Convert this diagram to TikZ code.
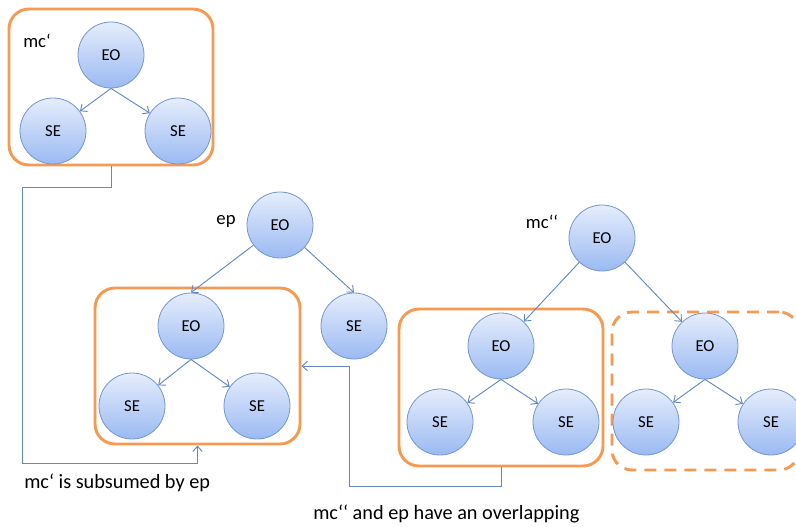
\documentclass[tikz,border=0pt]{standalone}
\usepackage{fontspec}
\setmainfont{Carlito}
\usetikzlibrary{arrows.meta}

\definecolor{boxorange}{HTML}{F59A52}
\definecolor{linkblue}{HTML}{6389C0}
\definecolor{ballTop}{HTML}{E6EDFC}
\definecolor{ballBot}{HTML}{9ABAF2}
\definecolor{ballEdge}{HTML}{7496CC}

\begin{document}
\begin{tikzpicture}[x=0.75pt,y=-0.75pt,
  ball/.style={circle, minimum size=49.5pt, inner sep=0pt, draw=ballEdge,
    line width=0.6pt, top color=ballTop, bottom color=ballBot,
    font=\fontsize{12.5}{14}\selectfont},
  groupbox/.style={rectangle, draw=boxorange, line width=2.2pt,
    rounded corners=15pt, inner sep=0pt},
  optbox/.style={groupbox, dash pattern=on 9pt off 6pt},
  treearrow/.style={draw=linkblue, line width=0.7pt,
    -{Straight Barb[length=4pt,width=7pt]}},
  linkarrow/.style={treearrow},
  lbl/.style={font=\fontsize{14}{16}\selectfont, inner sep=0pt},
  caption/.style={font=\fontsize{15.2}{18}\selectfont, inner sep=0pt}]

\useasboundingbox (0,0) rectangle (796,526);

% group frames
\node[groupbox, minimum width=153pt, minimum height=117pt] (boxA) at (111,87) {};
\node[groupbox, minimum width=153.75pt, minimum height=117pt] (boxC) at (197.5,366) {};
\node[groupbox, minimum width=153pt, minimum height=117.75pt] (boxE) at (501,387.5) {};
\clip (0,0) rectangle (796,526);
\node[optbox, minimum width=140.25pt, minimum height=118.5pt] (boxF) at (705.5,391) {};

% mc' tree
\node[ball] (eoA) at (111,55) {EO};
\node[ball] (seA1) at (53,131) {SE};
\node[ball] (seA2) at (178,131) {SE};
\node[lbl] (lblA) at (37,41) {mc‘};

% ep tree
\node[ball] (eoB) at (280,225) {EO};
\node[ball] (seB) at (354,326) {SE};
\node[ball] (eoC) at (191,326) {EO};
\node[ball] (seC1) at (132,406) {SE};
\node[ball] (seC2) at (257,406) {SE};
\node[lbl] (lblB) at (226,221) {ep};

% mc'' tree
\node[ball] (eoD) at (602,238) {EO};
\node[ball] (eoE) at (501,346) {EO};
\node[ball] (seE1) at (440,422) {SE};
\node[ball] (seE2) at (566,422) {SE};
\node[ball] (eoF) at (705,346) {EO};
\node[ball] (seF1) at (646,422) {SE};
\node[ball] (seF2) at (771,422) {SE};
\node[lbl] (lblD) at (542,222) {mc‘‘};

% tree edges
\draw[treearrow] (eoA.south) -- (seA1);
\draw[treearrow] (eoA.south) -- (seA2);
\draw[treearrow] (eoB) -- (eoC.north);
\draw[treearrow] (eoB) -- (seB.north);
\draw[treearrow] (eoC.south) -- (seC1);
\draw[treearrow] (eoC.south) -- (seC2);
\draw[treearrow] (eoD) -- (eoE);
\draw[treearrow] (eoD) -- (eoF);
\draw[treearrow] (eoE.south) -- (seE1);
\draw[treearrow] (eoE.south) -- (seE2);
\draw[treearrow] (eoF.south) -- (seF1);
\draw[treearrow] (eoF.south) -- (seF2);

% relations between groups
\coordinate (bendA) at (22,187);
\coordinate (bendB) at (22,463);
\coordinate (bendC) at (349,486);
\draw[linkarrow] (boxA.south) |- (bendA) -- (bendB) -| (boxC.south);
\draw[linkarrow] (boxE.south) |- (bendC) |- (boxC.east);

% captions
\node[caption, anchor=west] (capA) at (24,483) {mc‘ is subsumed by ep};
\node[caption, anchor=west] (capB) at (313,514) {mc‘‘ and ep have an overlapping};
\end{tikzpicture}
\end{document}
